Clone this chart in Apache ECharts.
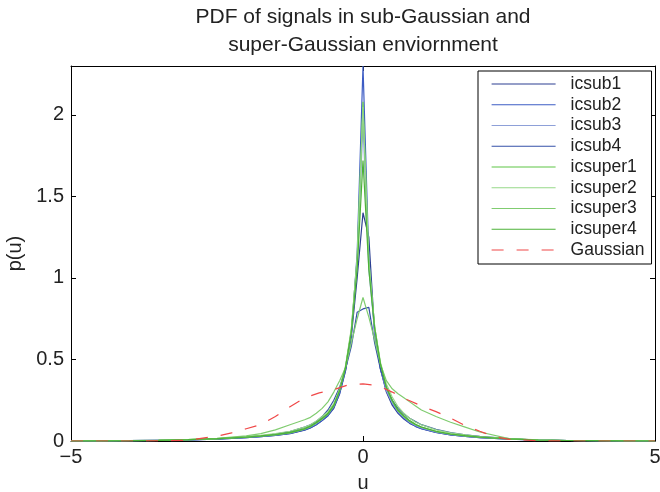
<!DOCTYPE html>
<html>
<head>
<meta charset="utf-8">
<script src="https://cdn.jsdelivr.net/npm/echarts@6/dist/echarts.min.js"></script>
<style>
  html, body { margin: 0; padding: 0; background: #fff; }
  #chart { width: 660px; height: 492px; }
</style>
</head>
<body>
<div id="chart"></div>
<script>
// shared x grid for the ICA signal densities
const xs = [-5, -4.5, -4, -3.5, -3, -2.5, -2, -1.75, -1.5, -1.25, -1, -0.9, -0.8, -0.7, -0.6, -0.5, -0.4, -0.3, -0.2, -0.1,
  0, 0.1, 0.2, 0.3, 0.4, 0.5, 0.6, 0.7, 0.8, 0.9, 1, 1.25, 1.5, 1.75, 2, 2.5, 3, 3.5, 4, 4.5, 5]

const icsub1 = [0, 0.001, 0.002, 0.003, 0.006, 0.011, 0.02, 0.026, 0.034, 0.045, 0.066, 0.08, 0.1, 0.125, 0.155, 0.2, 0.29, 0.43, 0.64, 1.0,
  1.40, 1.25, 0.66, 0.44, 0.3, 0.22, 0.17, 0.135, 0.108, 0.09, 0.075, 0.052, 0.038, 0.028, 0.02, 0.011, 0.005, 0.003, 0.001, 0.001, 0]
const icsub2 = [0, 0.001, 0.002, 0.004, 0.007, 0.012, 0.021, 0.027, 0.035, 0.047, 0.068, 0.082, 0.1, 0.125, 0.155, 0.205, 0.29, 0.43, 0.65, 1.15,
  2.3, 1.12, 0.66, 0.44, 0.31, 0.23, 0.175, 0.14, 0.11, 0.09, 0.076, 0.052, 0.038, 0.028, 0.021, 0.011, 0.006, 0.003, 0.002, 0.001, 0]
const icsub3 = [0, 0.001, 0.002, 0.004, 0.007, 0.013, 0.023, 0.029, 0.037, 0.05, 0.072, 0.088, 0.108, 0.135, 0.165, 0.215, 0.31, 0.45, 0.67, 1.08,
  1.95, 1.05, 0.67, 0.45, 0.31, 0.235, 0.18, 0.145, 0.115, 0.095, 0.08, 0.055, 0.04, 0.03, 0.022, 0.012, 0.006, 0.003, 0.002, 0.001, 0]
const icsub4 = [0, 0.001, 0.002, 0.004, 0.007, 0.013, 0.025, 0.032, 0.042, 0.058, 0.085, 0.1, 0.12, 0.15, 0.19, 0.25, 0.33, 0.44, 0.58, 0.79,
  0.81, 0.82, 0.6, 0.44, 0.33, 0.25, 0.2, 0.165, 0.14, 0.12, 0.1, 0.072, 0.052, 0.038, 0.028, 0.014, 0.006, 0.003, 0.002, 0.001, 0]
const icsuper1 = [0, 0.001, 0.002, 0.004, 0.008, 0.013, 0.023, 0.03, 0.038, 0.05, 0.073, 0.088, 0.11, 0.135, 0.165, 0.215, 0.31, 0.45, 0.68, 1.12,
  2.08, 1.1, 0.7, 0.47, 0.33, 0.245, 0.185, 0.15, 0.12, 0.1, 0.085, 0.058, 0.042, 0.032, 0.024, 0.013, 0.006, 0.003, 0.002, 0.001, 0]
const icsuper2 = [0, 0.001, 0.002, 0.005, 0.009, 0.015, 0.027, 0.035, 0.045, 0.06, 0.085, 0.1, 0.122, 0.15, 0.18, 0.23, 0.32, 0.46, 0.69, 1.12,
  2.05, 1.1, 0.7, 0.48, 0.35, 0.27, 0.21, 0.17, 0.14, 0.115, 0.1, 0.068, 0.05, 0.037, 0.027, 0.014, 0.007, 0.003, 0.002, 0.001, 0]
const icsuper3 = [0, 0.001, 0.002, 0.004, 0.008, 0.016, 0.032, 0.045, 0.068, 0.1, 0.13, 0.145, 0.17, 0.2, 0.24, 0.3, 0.37, 0.45, 0.6, 0.75,
  0.88, 0.76, 0.62, 0.47, 0.37, 0.32, 0.29, 0.265, 0.24, 0.215, 0.19, 0.15, 0.115, 0.085, 0.055, 0.015, 0.006, 0.003, 0.002, 0.001, 0]
const icsuper4 = [0, 0.001, 0.002, 0.004, 0.008, 0.014, 0.024, 0.031, 0.04, 0.053, 0.076, 0.092, 0.113, 0.14, 0.17, 0.22, 0.31, 0.45, 0.67, 1.05,
  1.72, 1.05, 0.69, 0.47, 0.33, 0.25, 0.19, 0.155, 0.125, 0.102, 0.086, 0.06, 0.043, 0.033, 0.024, 0.013, 0.006, 0.003, 0.002, 0.001, 0]

// reference gaussian, its own grid
const gaussX = [-5, -4.5, -4, -3.5, -3, -2.5, -2.25, -2, -1.75, -1.5, -1.25, -1, -0.75, -0.5, -0.25, 0,
  0.25, 0.5, 0.75, 1, 1.25, 1.5, 1.75, 2, 2.25, 2.5, 3, 3.5, 4, 4.5, 5]
const gaussY = [0, 0, 0, 0.001, 0.004, 0.03, 0.05, 0.075, 0.1, 0.15, 0.21, 0.265, 0.295, 0.315, 0.345, 0.35,
  0.34, 0.3, 0.255, 0.215, 0.18, 0.14, 0.095, 0.06, 0.027, 0.01, 0.002, 0, 0, 0, 0]

const xTicks = [-5, 0, 5]
const yTicks = [0, 0.5, 1, 1.5, 2]

const names = ['icsub1', 'icsub2', 'icsub3', 'icsub4', 'icsuper1', 'icsuper2', 'icsuper3', 'icsuper4']
const values = [icsub1, icsub2, icsub3, icsub4, icsuper1, icsuper2, icsuper3, icsuper4]
const colors = ['#2c3f92', '#3d5cc4', '#8ea0d8', '#3450a8', '#5ec646', '#96d888', '#80cc70', '#4db238']

const font = 'Liberation Sans'
const fmtNum = v => String(v).replace('-', '\u2212')

let series = names.map((n, i) => ({
  name: n,
  type: 'line',
  symbol: 'none',
  data: xs.map((x, k) => [x, values[i][k]]),
  lineStyle: { width: 1.2, color: colors[i] },
  itemStyle: { color: colors[i] },
  animation: false
}))
series.push({
  name: 'Gaussian',
  type: 'line',
  symbol: 'none',
  data: gaussX.map((x, k) => [x, gaussY[k]]),
  lineStyle: { width: 1.2, color: '#f04848', type: [12, 13] },
  itemStyle: { color: '#f04848' },
  animation: false
})

const axisCommon = {
  axisLine: { onZero: false, lineStyle: { color: '#000', width: 1 } },
  axisTick: { inside: true, length: 5, lineStyle: { color: '#000' } },
  splitLine: { show: false }
}

let option = {
  animation: false,
  textStyle: { fontFamily: font },
  title: {
    text: 'PDF of signals in sub-Gaussian and\nsuper-Gaussian enviornment',
    left: 363,
    top: 3,
    padding: 0,
    textAlign: 'center',
    textStyle: { fontFamily: font, fontSize: 21, fontWeight: 'normal', color: '#222', lineHeight: 28 }
  },
  grid: { left: 71, right: 5, top: 66, bottom: 51, outerBoundsMode: 'none' },
  legend: {
    data: names.concat(['Gaussian']),
    orient: 'vertical',
    left: 478,
    top: 71,
    padding: [4, 7, 5, 13],
    itemWidth: 64,
    itemHeight: 14,
    itemGap: 2.75,
    itemStyle: { opacity: 0 },
    lineStyle: { width: 1.2 },
    backgroundColor: '#fff',
    borderColor: '#000',
    borderWidth: 1,
    borderRadius: 0,
    textStyle: { fontFamily: font, fontSize: 17.5, color: '#222', lineHeight: 16, padding: [0, 0, 0, 10] }
  },
  xAxis: [
    Object.assign({
      type: 'value', min: -5, max: 5, interval: 5, position: 'bottom',
      name: 'u', nameLocation: 'middle', nameGap: 32,
      nameTextStyle: { fontFamily: font, fontSize: 20, color: '#222' },
      axisLabel: {
        fontFamily: font, fontSize: 20, color: '#222', margin: 6,
        formatter: v => xTicks.includes(v) ? fmtNum(v) : ''
      }
    }, axisCommon),
    Object.assign({
      type: 'value', min: -5, max: 5, interval: 5, position: 'top',
      axisLabel: { show: false }
    }, axisCommon)
  ],
  yAxis: [
    Object.assign({
      type: 'value', min: 0, max: 2.3, interval: 0.5, position: 'left',
      name: 'p(u)', nameLocation: 'middle', nameGap: 42, nameRotate: 90,
      nameTextStyle: { fontFamily: font, fontSize: 20, color: '#222' },
      axisLabel: {
        fontFamily: font, fontSize: 20, color: '#222', margin: 7,
        formatter: v => yTicks.includes(v) ? String(v) : ''
      }
    }, axisCommon),
    Object.assign({
      type: 'value', min: 0, max: 2.3, interval: 0.5, position: 'right',
      axisLabel: { show: false }
    }, axisCommon)
  ],
  series: series
}

let myChart = echarts.init(document.getElementById('chart'))
myChart.setOption(option, true)
</script>
</body>
</html>
